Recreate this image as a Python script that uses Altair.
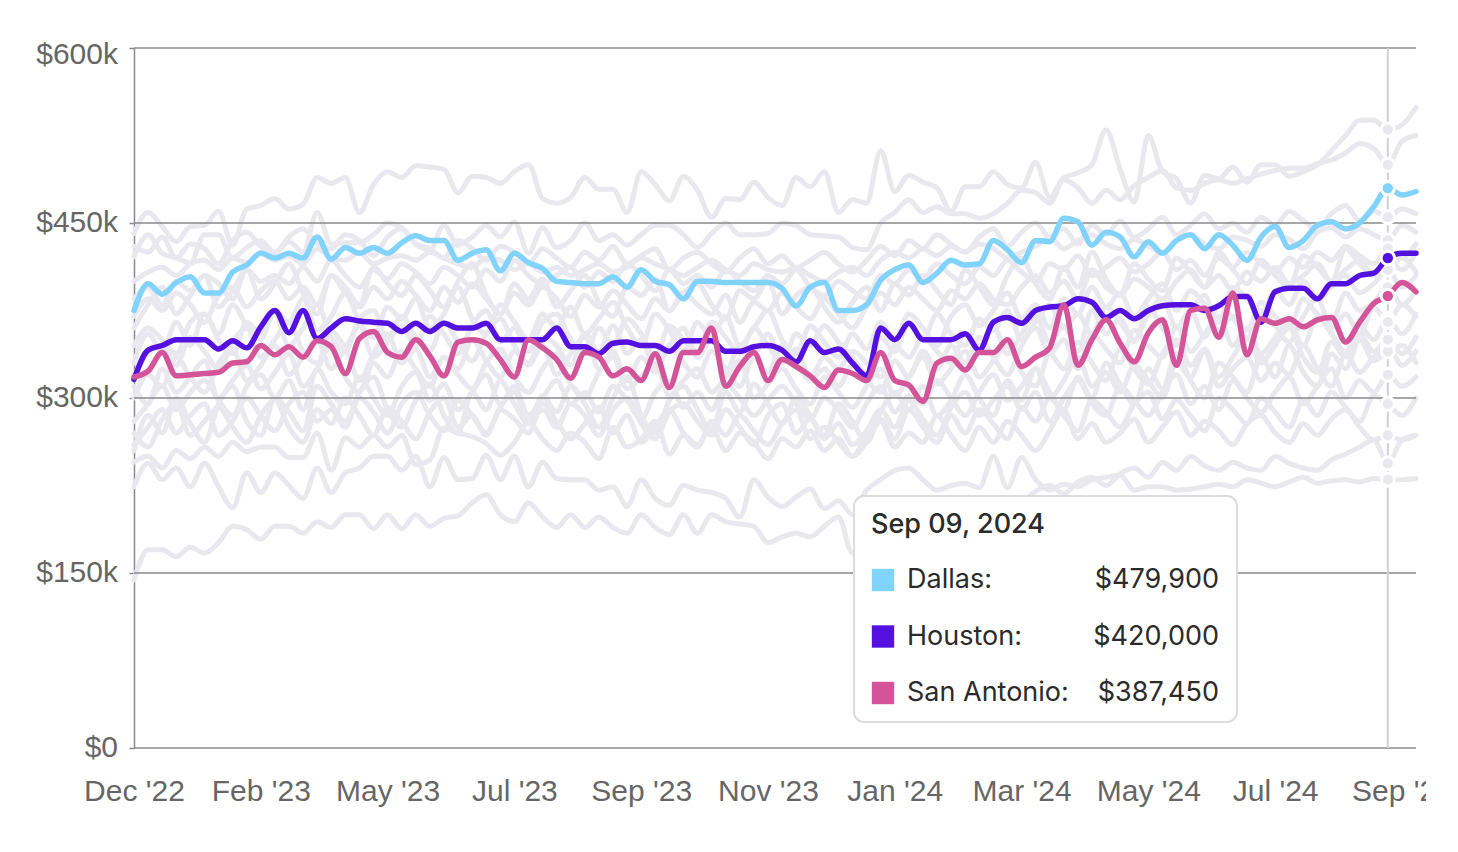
import altair as alt
import pandas as pd

# ---------------- data (weekly, values in $k) ----------------
START = "2022-12-26"
N_WEEKS = 92
HOVER_INDEX = 89  # Sep 09, 2024

dallas = [
    375, 398, 389, 399, 404, 390, 390, 408, 414, 424,
    420, 424, 420, 438, 419, 429, 424, 429, 424, 433,
    439, 435, 435, 418, 424, 427, 409, 424, 416, 411,
    400, 399, 398, 398, 404, 395, 410, 400, 397, 385,
    400, 400, 399, 399, 399, 399, 394, 379, 395, 399,
    375, 375, 380, 401, 410, 414, 399, 407, 418, 414,
    415, 435, 427, 416, 435, 434, 454, 451, 431, 442,
    438, 421, 434, 424, 435, 440, 428, 440, 431, 418,
    438, 447, 429, 435, 448, 451, 445, 450, 464, 479.9,
    474, 477,
]
houston = [
    316, 341, 345, 350, 350, 350, 342, 349, 343, 361,
    375, 356, 375, 351, 360, 368, 366, 365, 364, 357,
    364, 357, 364, 360, 360, 364, 350, 350, 350, 350,
    360, 344, 344, 338, 347, 348, 345, 345, 340, 349,
    349, 349, 340, 340, 344, 345, 341, 331, 349, 339,
    342, 330, 319, 360, 350, 364, 350, 350, 350, 355,
    341, 365, 369, 364, 375, 378, 379, 385, 382, 369,
    375, 368, 375, 379, 380, 380, 375, 379, 387, 387,
    365, 391, 394, 394, 385, 398, 398, 405, 407, 420,
    424, 424,
]
san_antonio = [
    318, 323, 339, 319, 320, 321, 322, 330, 331, 345,
    337, 344, 335, 349, 344, 321, 351, 357, 339, 335,
    350, 336, 319, 348, 350, 347, 333, 318, 350, 343,
    333, 317, 339, 335, 319, 325, 315, 338, 309, 339,
    339, 360, 310, 327, 339, 315, 333, 327, 319, 309,
    324, 321, 315, 339, 315, 311, 297, 330, 334, 324,
    339, 339, 350, 327, 335, 343, 380, 328, 350, 367,
    347, 331, 356, 367, 328, 375, 377, 352, 390, 337,
    368, 364, 368, 361, 367, 369, 348, 365, 381, 387.45,
    399, 391,
]

other_01 = [
    441, 459, 447, 434, 447, 448, 460, 431, 462, 465,
    471, 462, 466, 489, 484, 489, 459, 483, 494, 489,
    499, 498, 496, 476, 490, 489, 484, 494, 500, 471,
    467, 472, 489, 479, 479, 459, 494, 483, 469, 490,
    478, 455, 471, 470, 485, 472, 465, 489, 481, 494,
    459, 470, 467, 512, 477, 491, 485, 480, 460, 481,
    481, 494, 483, 480, 502, 472, 489, 493, 500, 530,
    496, 468, 525, 494, 488, 467, 491, 488, 498, 485,
    500, 500, 490, 494, 500, 512, 525, 538, 538, 530,
    534, 549,
]
other_02 = [
    421, 440, 424, 420, 416, 440, 440, 420, 429, 435,
    424, 434, 425, 459, 432, 433, 433, 440, 450, 446,
    432, 427, 448, 431, 438, 448, 438, 451, 424, 446,
    429, 435, 450, 435, 440, 431, 440, 448, 448, 440,
    429, 441, 450, 440, 440, 441, 450, 448, 440, 439,
    438, 429, 427, 450, 459, 470, 459, 464, 458, 458,
    454, 458, 467, 478, 476, 467, 487, 480, 467, 478,
    470, 482, 489, 495, 480, 478, 484, 487, 484, 488,
    492, 495, 497, 497, 501, 504, 510, 518, 514, 500,
    520, 525,
]
other_03 = [
    400, 408, 412, 405, 415, 418, 410, 420, 416, 425,
    418, 422, 415, 428, 420, 418, 425, 415, 420, 422,
    418, 425, 420, 415, 412, 420, 418, 410, 415, 408,
    412, 405, 410, 415, 408, 412, 420, 415, 410, 405,
    412, 418, 410, 405, 415, 410, 408, 412, 405, 400,
    408, 412, 405, 418, 425, 420, 428, 422, 430, 425,
    432, 428, 420, 425, 430, 438, 428, 435, 440, 432,
    428, 436, 430, 425, 435, 440, 432, 428, 438, 435,
    430, 440, 436, 428, 442, 446, 438, 445, 440, 435,
    448, 442,
]
other_04 = [
    385, 395, 380, 400, 392, 405, 398, 385, 410, 400,
    405, 398, 412, 400, 418, 405, 395, 410, 402, 415,
    408, 398, 412, 405, 395, 410, 400, 418, 405, 398,
    405, 412, 395, 408, 400, 415, 405, 392, 410, 398,
    405, 395, 410, 400, 392, 405, 398, 410, 395, 388,
    400, 392, 385, 405, 398, 410, 402, 415, 405, 398,
    412, 405, 418, 408, 400, 415, 410, 422, 405, 412,
    420, 408, 415, 425, 410, 418, 405, 420, 412, 425,
    415, 408, 420, 412, 425, 418, 430, 422, 415, 428,
    420, 432,
]
other_05 = [
    370, 385, 375, 390, 380, 365, 388, 395, 378, 392,
    400, 385, 395, 380, 405, 390, 378, 395, 385, 400,
    388, 375, 395, 382, 398, 385, 372, 390, 380, 395,
    385, 370, 388, 378, 392, 380, 368, 385, 375, 390,
    380, 372, 388, 365, 382, 375, 390, 378, 368, 385,
    372, 360, 378, 390, 380, 395, 385, 375, 392, 385,
    398, 385, 380, 395, 405, 390, 400, 385, 410, 395,
    388, 402, 395, 385, 400, 410, 395, 405, 392, 408,
    400, 412, 398, 405, 415, 400, 410, 418, 405, 412,
    420, 408,
]
other_06 = [
    330, 355, 340, 365, 345, 372, 350, 338, 365, 355,
    372, 345, 360, 380, 352, 340, 368, 375, 350, 362,
    345, 370, 355, 338, 362, 375, 348, 360, 340, 365,
    372, 350, 338, 360, 345, 368, 355, 335, 362, 350,
    340, 365, 352, 338, 360, 345, 330, 355, 345, 362,
    348, 335, 320, 352, 340, 365, 350, 372, 355, 345,
    368, 358, 375, 350, 365, 380, 360, 372, 355, 378,
    365, 350, 372, 385, 360, 375, 352, 380, 368, 358,
    382, 370, 360, 385, 372, 365, 390, 375, 382, 395,
    380, 392,
]
other_07 = [
    300, 320, 310, 335, 318, 305, 330, 342, 315, 328,
    345, 320, 335, 350, 325, 340, 315, 338, 355, 330,
    342, 318, 335, 325, 350, 332, 318, 340, 328, 345,
    320, 338, 352, 325, 340, 315, 335, 322, 345, 330,
    318, 340, 325, 310, 335, 322, 345, 330, 315, 325,
    310, 328, 315, 305, 332, 318, 340, 325, 345, 330,
    352, 335, 320, 345, 360, 338, 350, 325, 355, 342,
    330, 358, 345, 335, 362, 340, 355, 370, 345, 360,
    338, 352, 365, 345, 370, 355, 340, 362, 350, 368,
    355, 372,
]
other_08 = [
    280, 295, 310, 290, 305, 315, 298, 285, 310, 320,
    300, 315, 290, 325, 305, 295, 318, 300, 285, 310,
    322, 298, 312, 290, 305, 320, 295, 310, 285, 300,
    315, 295, 305, 288, 310, 298, 282, 305, 315, 292,
    305, 290, 312, 300, 285, 298, 310, 295, 282, 300,
    290, 275, 295, 310, 288, 302, 295, 315, 300, 285,
    305, 320, 298, 310, 325, 300, 315, 335, 310, 322,
    305, 328, 315, 300, 330, 318, 340, 310, 325, 335,
    315, 330, 320, 345, 325, 310, 338, 322, 335, 345,
    328, 340,
]
other_09 = [
    345, 360, 350, 338, 365, 372, 355, 380, 362, 350,
    375, 365, 385, 358, 370, 390, 365, 352, 378, 368,
    385, 360, 372, 395, 368, 355, 380, 365, 350, 372,
    360, 378, 355, 368, 382, 360, 345, 372, 358, 340,
    365, 352, 370, 345, 360, 375, 350, 338, 362, 348,
    335, 355, 342, 365, 350, 372, 360, 345, 370, 380,
    362, 375, 390, 368, 380, 360, 385, 372, 395, 378,
    390, 370, 385, 398, 375, 392, 380, 365, 395, 385,
    372, 392, 380, 400, 385, 395, 405, 390, 398, 410,
    395, 405,
]
other_10 = [
    260, 275, 290, 270, 285, 295, 268, 280, 300, 285,
    272, 295, 305, 280, 290, 275, 300, 288, 270, 295,
    305, 285, 272, 298, 285, 270, 292, 305, 280, 290,
    275, 295, 285, 268, 290, 300, 278, 265, 288, 295,
    280, 268, 290, 275, 260, 285, 295, 270, 282, 265,
    278, 260, 272, 290, 275, 298, 282, 268, 292, 305,
    285, 298, 310, 290, 305, 280, 300, 315, 295, 285,
    310, 298, 285, 305, 320, 295, 310, 290, 315, 300,
    288, 305, 318, 295, 310, 325, 300, 315, 305, 320,
    310, 318,
]
other_11 = [
    320, 338, 345, 328, 352, 340, 325, 348, 360, 335,
    350, 365, 340, 330, 358, 345, 362, 335, 348, 370,
    352, 340, 365, 348, 332, 355, 368, 345, 330, 352,
    345, 328, 355, 340, 362, 338, 350, 325, 345, 360,
    335, 350, 322, 345, 338, 355, 330, 342, 318, 335,
    325, 340, 330, 318, 345, 335, 352, 340, 330, 355,
    345, 362, 338, 355, 370, 348, 362, 340, 375, 355,
    368, 348, 378, 360, 345, 372, 388, 358, 370, 350,
    375, 362, 348, 370, 385, 360, 372, 355, 378, 365,
    380, 370,
]
other_12 = [
    255, 285, 270, 300, 278, 262, 295, 310, 280, 268,
    300, 288, 272, 310, 295, 280, 305, 318, 290, 275,
    298, 312, 285, 270, 305, 290, 315, 295, 278, 302,
    288, 310, 295, 275, 300, 318, 285, 270, 298, 310,
    290, 272, 305, 288, 312, 295, 278, 300, 285, 268,
    295, 280, 262, 288, 305, 290, 310, 285, 298, 320,
    300, 285, 315, 298, 325, 305, 290, 318, 300, 330,
    312, 295, 325, 308, 338, 315, 300, 330, 318, 305,
    335, 318, 345, 322, 310, 338, 325, 350, 332, 340,
    345, 330,
]
other_13 = [
    245, 250, 240, 255, 248, 258, 250, 262, 254, 258,
    258, 249, 249, 270, 238, 266, 258, 268, 258, 268,
    243, 247, 274, 270, 267, 261, 251, 262, 279, 265,
    255, 270, 262, 248, 275, 258, 265, 280, 252, 268,
    260, 275, 255, 270, 262, 248, 265, 258, 272, 255,
    265, 250, 262, 280, 258, 270, 262, 285, 268, 255,
    275, 262, 280, 268, 255, 272, 290, 265, 278, 262,
    270, 282, 262, 275, 288, 268, 280, 272, 260, 278,
    285, 270, 262, 278, 268, 282, 290, 275, 264, 268,
    264, 268,
]
other_14 = [
    224, 244, 230, 240, 224, 244, 224, 206, 236, 219,
    236, 225, 214, 240, 219, 236, 240, 250, 250, 238,
    250, 224, 249, 230, 231, 251, 230, 250, 224, 245,
    231, 230, 230, 221, 224, 207, 230, 214, 208, 225,
    221, 219, 214, 198, 230, 215, 207, 215, 222, 205,
    212, 200, 221, 230, 238, 240, 230, 221, 225, 227,
    223, 250, 223, 249, 230, 221, 226, 224, 230, 232,
    234, 221, 224, 224, 221, 222, 224, 226, 224, 230,
    227, 224, 228, 232, 227, 229, 230, 228, 231, 230,
    230, 231,
]
other_15 = [
    144, 170, 170, 164, 172, 167, 176, 190, 187, 179,
    190, 190, 184, 194, 189, 200, 200, 188, 200, 188,
    200, 190, 197, 199, 210, 217, 200, 194, 210, 198,
    189, 200, 189, 198, 189, 184, 200, 189, 183, 200,
    184, 200, 194, 192, 190, 176, 181, 184, 181, 190,
    198, 167, 172, 180, 188, 195, 190, 200, 205, 198,
    210, 205, 215, 212, 220, 225, 218, 228, 232, 225,
    235, 240, 232, 245, 238, 250, 242, 238, 245, 240,
    238, 250, 244, 240, 238, 247, 252, 258, 264, 244,
    264, 268,
]
other_16 = [
    430, 425, 438, 420, 432, 428, 415, 435, 442, 430,
    425, 438, 445, 432, 428, 440, 435, 422, 438, 445,
    432, 428, 420, 435, 428, 418, 430, 425, 415, 428,
    420, 412, 425, 418, 430, 415, 422, 428, 410, 420,
    425, 415, 408, 420, 428, 415, 422, 412, 418, 425,
    415, 408, 418, 430, 422, 435, 428, 440, 432, 425,
    438, 445, 430, 442, 450, 438, 445, 432, 448, 440,
    452, 438, 445, 455, 440, 448, 458, 445, 450, 442,
    455, 448, 460, 452, 445, 458, 465, 452, 460, 455,
    462, 458,
]
other_17 = [
    360, 380, 395, 372, 388, 405, 378, 392, 410, 385,
    398, 415, 390, 372, 405, 395, 380, 412, 398, 388,
    405, 392, 378, 400, 415, 388, 372, 398, 385, 402,
    378, 392, 405, 382, 370, 395, 388, 402, 375, 390,
    398, 380, 368, 392, 385, 400, 372, 388, 395, 378,
    365, 382, 395, 375, 398, 388, 405, 392, 380, 410,
    395, 380, 405, 420, 398, 385, 412, 395, 425, 402,
    388, 415, 402, 392, 420, 408, 395, 425, 410, 398,
    418, 405, 395, 422, 412, 400, 428, 415, 405, 420,
    410, 425,
]
other_18 = [
    310, 295, 325, 305, 318, 332, 300, 315, 328, 308,
    322, 338, 310, 325, 345, 318, 305, 330, 318, 340,
    325, 310, 335, 320, 308, 330, 342, 318, 305, 325,
    338, 312, 300, 322, 335, 308, 318, 330, 302, 315,
    325, 305, 318, 332, 300, 312, 325, 308, 295, 318,
    305, 292, 310, 325, 302, 318, 335, 312, 325, 340,
    318, 332, 345, 322, 310, 338, 325, 348, 330, 315,
    342, 325, 312, 338, 350, 328, 342, 318, 335, 352,
    330, 345, 360, 335, 322, 348, 335, 355, 340, 350,
    338, 352,
]
other_19 = [
    270, 258, 282, 295, 268, 280, 292, 275, 262, 285,
    298, 275, 262, 290, 278, 300, 285, 268, 292, 280,
    265, 288, 300, 275, 285, 268, 290, 282, 270, 295,
    280, 265, 278, 292, 270, 285, 262, 275, 290, 270,
    258, 280, 268, 285, 272, 260, 278, 290, 265, 275,
    262, 250, 268, 282, 265, 290, 275, 262, 285, 270,
    290, 278, 265, 292, 280, 300, 285, 272, 298, 288,
    275, 295, 305, 282, 298, 285, 272, 300, 290, 278,
    300, 288, 275, 298, 285, 305, 292, 280, 302, 295,
    285, 300,
]

highlight_names = ["Dallas", "Houston", "San Antonio"]
highlight_values = [dallas, houston, san_antonio]
highlight_colors = ["#81D3FB", "#5410DE", "#D4549A"]
other_values = [other_01, other_02, other_03, other_04, other_05, other_06, other_07,
                other_08, other_09, other_10, other_11, other_12, other_13, other_14,
                other_15, other_16, other_17, other_18, other_19]
y_ticks = [0, 150000, 300000, 450000, 600000]

# ---------------- tables ----------------
dates = pd.date_range(START, periods=N_WEEKS, freq="7D")
hover_date = dates[HOVER_INDEX]
tick_dates = dates[::9]

rows = []
for name, vals in zip(highlight_names, highlight_values):
    for d, v in zip(dates, vals):
        rows.append({"city": name, "date": d, "value": v * 1000})
hl = pd.DataFrame(rows)

rows = []
for i, vals in enumerate(other_values):
    for d, v in zip(dates, vals):
        rows.append({"city": f"Other {i + 1:02d}", "date": d, "value": v * 1000})
grey = pd.DataFrame(rows)

hl_hover = hl[hl["date"] == hover_date].copy()
hl_hover["label"] = hl_hover["city"] + ":"
grey_hover = grey[grey["date"] == hover_date]

ylab = pd.DataFrame({
    "v": y_ticks,
    "t": ["$0" if v == 0 else f"${v // 1000}k" for v in y_ticks],
})


def dt(ts):
    return alt.DateTime(year=int(ts.year), month=int(ts.month), date=int(ts.day))


W, H = 1282, 700
GREY = "#E8E8EE"
AXIS_GREY = "#8a8a8a"
AXIS_FONT = "Liberation Sans"
TIP_FONT = "Inter"
LABEL_SIZE = 30

xscale = alt.Scale(domain=[dt(dates[0]), dt(dates[-1])], nice=False)
yscale = alt.Scale(domain=[0, 600000], nice=False)
cscale = alt.Scale(domain=highlight_names, range=highlight_colors)

xaxis = alt.Axis(
    values=[dt(d) for d in tick_dates], format="%b '%y", title=None,
    labelFont=AXIS_FONT, labelFontSize=LABEL_SIZE, labelColor="#666666",
    ticks=False, domain=False, grid=False, labelPadding=28,
    labelFlush=False, labelOverlap=False,
)
yaxis = alt.Axis(
    values=y_ticks, title=None, grid=False, labels=False,
    domain=True, domainColor=AXIS_GREY, domainWidth=1.5,
    ticks=True, tickColor=AXIS_GREY, tickSize=5, tickWidth=1.5,
)

X = alt.X("date:T", scale=xscale, axis=xaxis)
Y_noaxis = alt.Y("value:Q", scale=yscale, axis=None)

grey_lines = alt.Chart(grey).mark_line(
    color=GREY, strokeWidth=5, interpolate="monotone", strokeCap="round", strokeJoin="round"
).encode(x=X, y=alt.Y("value:Q", scale=yscale, axis=yaxis), detail="city:N")

grid = alt.Chart(pd.DataFrame({"v": y_ticks})).mark_rule(
    color=AXIS_GREY, strokeWidth=1.5
).encode(y=alt.Y("v:Q", scale=yscale, axis=None), x=alt.value(0), x2=alt.value(W))

ylabels_main = alt.Chart(ylab[ylab["v"] < 600000]).mark_text(
    align="right", baseline="middle", font=AXIS_FONT, fontSize=LABEL_SIZE, color="#666666"
).encode(y=alt.Y("v:Q", scale=yscale, axis=None), x=alt.value(-16), text="t:N")
ylabels_top = alt.Chart(ylab[ylab["v"] == 600000]).mark_text(
    align="right", baseline="middle", font=AXIS_FONT, fontSize=LABEL_SIZE, color="#666666", dy=7
).encode(y=alt.Y("v:Q", scale=yscale, axis=None), x=alt.value(-16), text="t:N")

vrule = alt.Chart(pd.DataFrame({"date": [hover_date]})).mark_rule(
    color="#d2d2d2", strokeWidth=2
).encode(x=X, y=alt.value(0), y2=alt.value(H))

grey_pts = alt.Chart(grey_hover).mark_circle(
    color=GREY, size=170, stroke="white", strokeWidth=3, opacity=1
).encode(x=X, y=Y_noaxis)

hl_lines = alt.Chart(hl).mark_line(
    strokeWidth=5.5, interpolate="monotone", strokeCap="round", strokeJoin="round"
).encode(
    x=X, y=Y_noaxis,
    color=alt.Color("city:N", scale=cscale, legend=None),
)

hl_pts = alt.Chart(hl_hover).mark_circle(
    size=180, stroke="white", strokeWidth=3, opacity=1
).encode(x=X, y=Y_noaxis, color=alt.Color("city:N", scale=cscale, legend=None))

# ---------------- tooltip ----------------
tip_box = alt.Chart(pd.DataFrame({"a": [0]})).mark_rect(
    fill="white", stroke="#dcdcdc", strokeWidth=2, cornerRadius=10
).encode(x=alt.value(720), x2=alt.value(1103), y=alt.value(448), y2=alt.value(674))

tip_title = alt.Chart(pd.DataFrame({"t": [hover_date.strftime("%b %d, %Y")]})).mark_text(
    align="left", baseline="middle", font=TIP_FONT, fontSize=27, fontWeight=500, color="#2b2b2b"
).encode(x=alt.value(737), y=alt.value(477), text="t:N")

row_y = alt.Y("city:N", scale=alt.Scale(type="point", domain=highlight_names, range=[532, 645], padding=0), axis=None)

tip_sw = alt.Chart(hl_hover).mark_square(size=500, opacity=1).encode(
    x=alt.value(749), y=row_y, color=alt.Color("city:N", scale=cscale, legend=None)
)
tip_names = alt.Chart(hl_hover).mark_text(
    align="left", baseline="middle", font=TIP_FONT, fontSize=27, color="#2b2b2b"
).encode(x=alt.value(773), y=row_y, text="label:N")
tip_vals = alt.Chart(hl_hover).mark_text(
    align="right", baseline="middle", font=TIP_FONT, fontSize=27, color="#2b2b2b"
).encode(x=alt.value(1085), y=row_y, text=alt.Text("value:Q", format="$,.0f"))

chart = alt.layer(
    grey_lines, grid, ylabels_main, ylabels_top, vrule, grey_pts, hl_lines, hl_pts,
    tip_box, tip_title, tip_sw, tip_names, tip_vals,
).resolve_scale(y="independent").properties(
    width=W, height=H,
    autosize=alt.AutoSizeParams(type="none"),
    padding={"left": 126, "top": 40, "right": 10, "bottom": 96},
).configure_view(strokeWidth=0)

chart.save("out.html", embed_options={"renderer": "svg", "actions": False})
